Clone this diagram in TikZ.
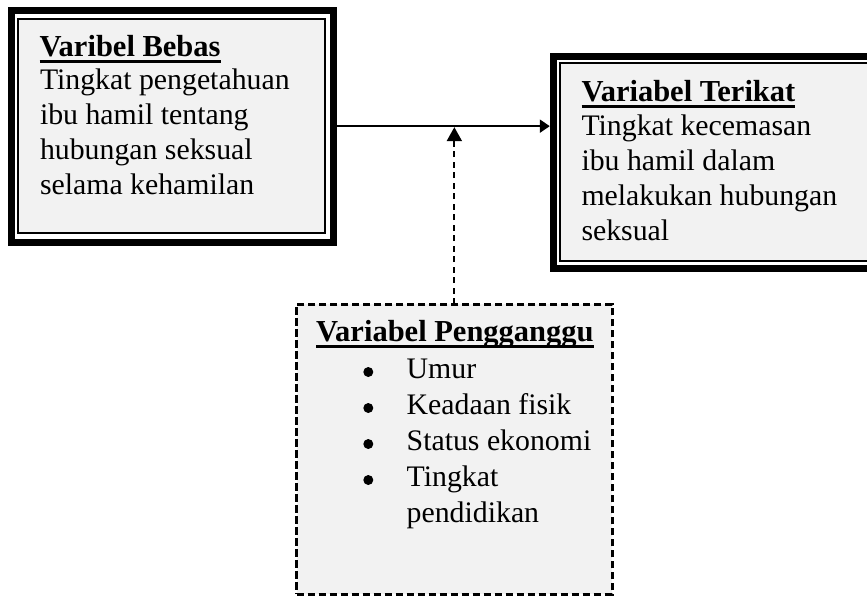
\documentclass[tikz,border=0pt]{standalone}
\usepackage{fontspec}
\setmainfont{Liberation Serif}
\usetikzlibrary{arrows.meta}
\definecolor{boxgray}{HTML}{F2F2F2}
\begin{document}
\begin{tikzpicture}[x=1pt,y=-1pt,
  outerbox/.style={draw=black,fill=white,line width=7pt,rectangle,inner sep=0pt,outer sep=0pt},
  innerbox/.style={draw=black,fill=boxgray,line width=2.3pt,rectangle,inner sep=0pt,outer sep=0pt},
  dbox/.style={draw=black,fill=boxgray,line width=3pt,dash pattern=on 7.5pt off 3.5pt,rectangle,inner sep=0pt,outer sep=0pt},
  txt/.style={anchor=base west,inner sep=0pt,outer sep=0pt,font=\fontsize{29.8pt}{35pt}\selectfont},
  head/.style={anchor=base west,inner sep=0pt,outer sep=0pt,font=\fontsize{30.5pt}{35pt}\selectfont\bfseries},
  uline/.style={line width=3pt},
  conn/.style={line width=2pt,-{Triangle[length=10pt,width=13pt]}},
  dconn/.style={line width=2pt,dash pattern=on 6pt off 4.5pt,-{Triangle[length=14pt,width=15pt]}},
  bul/.style={fill=black}]
\useasboundingbox (0,0) rectangle (867,595);
\clip (0,0) rectangle (867,595);
% left box
\node[outerbox,minimum width=321.7pt,minimum height=231.7pt] (lb) at (172.15,126.15) {};
\node[innerbox,minimum width=307pt,minimum height=214pt] (lbi) at (171.5,126) {};
% right box
\node[outerbox,minimum width=331.7pt,minimum height=212.3pt] (rb) at (719.15,162.15) {};
\node[innerbox,minimum width=317.7pt,minimum height=197.7pt] (rbi) at (719.15,161.85) {};
% dashed box
\node[dbox,minimum width=315.3pt,minimum height=290pt] (db) at (454.35,449) {};
% left text
\node[head] (h1) at (39.5,56.7) {Varibel Bebas};
\draw[uline] ([yshift=-4.5pt]h1.base west) -- ([yshift=-4.5pt]h1.base east);
\node[txt] (l1) at (40,89.3) {Tingkat pengetahuan};
\node[txt] (l2) at (40,124.3) {ibu hamil tentang};
\node[txt] (l3) at (40,159.3) {hubungan seksual};
\node[txt] (l4) at (40,194.3) {selama kehamilan};
% right text
\node[head] (h2) at (581.5,101.7) {Variabel Terikat};
\draw[uline] ([yshift=-4.5pt]h2.base west) -- ([yshift=-4.5pt]h2.base east);
\node[txt] (r1) at (581.5,135.7) {Tingkat kecemasan};
\node[txt] (r2) at (581.5,170.5) {ibu hamil dalam};
\node[txt] (r3) at (581.5,205.2) {melakukan hubungan};
\node[txt] (r4) at (581.5,240) {seksual};
% bottom text
\node[head] (h3) at (316,341.7) {Variabel Pengganggu};
\draw[uline] ([yshift=-4.5pt]h3.base west) -- ([yshift=-4.5pt]h3.base east);
\node[txt] (b1) at (406.7,378.5) {Umur};
\node[txt] (b2) at (406.7,414.5) {Keadaan fisik};
\node[txt] (b3) at (406.7,450.5) {Status ekonomi};
\node[txt] (b4) at (406.7,486.5) {Tingkat};
\node[txt] (b5) at (406.7,522.5) {pendidikan};
\fill[bul] (368.3,372) circle (5pt);
\fill[bul] (368.3,408) circle (5pt);
\fill[bul] (368.3,444) circle (5pt);
\fill[bul] (368.3,480) circle (5pt);
% connectors
\coordinate (m) at (db.north |- lb.east);
\draw[conn,shorten >=3.5pt] (lb.east) -- (lb.east -| rb.west);
\draw[dconn,shorten >=1pt] (db.north) -- (m);
\end{tikzpicture}
\end{document}
